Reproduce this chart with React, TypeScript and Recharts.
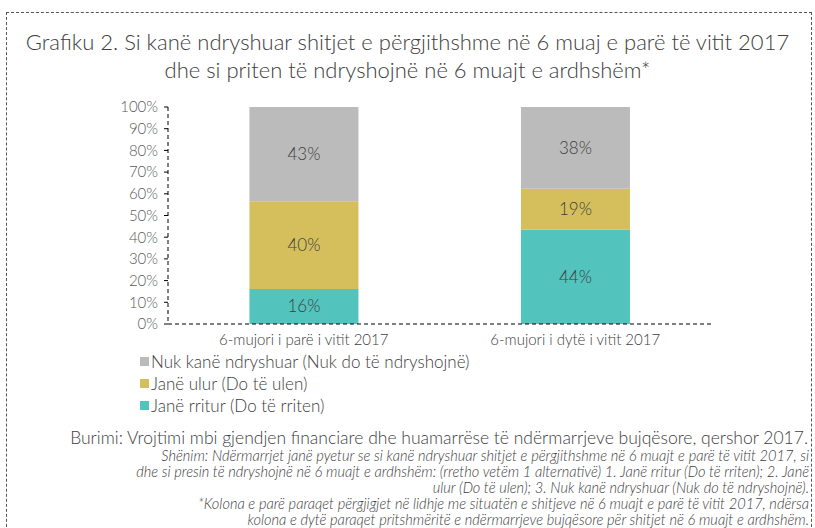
import React from 'react';
import { BarChart, Bar, XAxis, YAxis, LabelList } from 'recharts';

const categories = ['6-mujori i parë i vitit 2017', '6-mujori i dytë i vitit 2017'];
const rritur = [16, 44];
const ulur = [40, 19];
const pandryshuar = [43, 38];
const seriesNames = ['Janë rritur (Do të rriten)', 'Janë ulur (Do të ulen)', 'Nuk kanë ndryshuar (Nuk do të ndryshojnë)'];
const seriesColors = ['#52C3BD', '#D4BF5C', '#BBBBBB'];
const yTicks = [0, 0.1, 0.2, 0.3, 0.4, 0.5, 0.6, 0.7, 0.8, 0.9, 1];

const titleLines = [
  'Grafiku 2. Si kanë ndryshuar shitjet e përgjithshme në 6 muaj e parë të vitit 2017',
  'dhe si priten të ndryshojnë në 6 muajt e ardhshëm*',
];
const sourceLine = 'Burimi: Vrojtimi mbi gjendjen financiare dhe huamarrëse të ndërmarrjeve bujqësore, qershor 2017.';
const noteLines = [
  'Shënim: Ndërmarrjet janë pyetur se si kanë ndryshuar shitjet e përgjithshme në 6 muajt e parë të vitit 2017, si',
  'dhe si presin të ndryshojnë në 6 muajt e ardhshëm: (rretho vetëm 1 alternativë) 1. Janë rritur (Do të rriten); 2. Janë',
  'ulur (Do të ulen); 3. Nuk kanë ndryshuar (Nuk do të ndryshojnë).',
  '*Kolona e parë paraqet përgjigjet në lidhje me situatën e shitjeve në 6 muajt e parë të vitit 2017, ndërsa',
  'kolona e dytë paraqet pritshmëritë e ndërmarrjeve bujqësore për shitjet në 6 muajt e ardhshëm.',
];

const data = categories.map((c, i) => ({
  name: c,
  rritur: rritur[i],
  ulur: ulur[i],
  pandryshuar: pandryshuar[i],
}));

const FONT = 'Lato, "Open Sans", sans-serif';

export default function App() {
  const order = [2, 1, 0];
  return (
    <div style={{ position: 'absolute', left: 0, top: 0, width: 815, height: 528, background: '#fff', overflow: 'hidden', fontFamily: FONT }}>
      <div style={{ position: 'absolute', left: 6, top: 12, width: 806, height: 540, border: '1px dashed #555', boxSizing: 'border-box' }} />
      <div style={{ position: 'absolute', left: 0, top: 28, width: 815, textAlign: 'center', fontSize: 22, fontWeight: 300, color: '#404040', lineHeight: '28px', whiteSpace: 'nowrap' }}>
        {titleLines.map((t, i) => (<div key={i}>{t}</div>))}
      </div>
      <div style={{ position: 'absolute', left: 0, top: 0 }}>
        <BarChart width={815} height={528} data={data} stackOffset="expand" barCategoryGap="30%"
          margin={{ top: 107, left: 108, right: 104, bottom: 174 }}>
          <XAxis dataKey="name" axisLine={{ stroke: '#000', strokeDasharray: '4 3' }} tickLine={false}
            tick={{ fill: '#404040', fontSize: 15, fontFamily: FONT, fontWeight: 300 }} height={30} tickMargin={4} interval={0} />
          <YAxis width={60} ticks={yTicks} domain={[0, 1]} tickFormatter={(v) => `${Math.round(v * 100)}%`}
            axisLine={{ stroke: '#000', strokeDasharray: '4 3' }} tickLine={{ stroke: '#000' }} tickSize={4} tickMargin={6}
            tick={{ fill: '#595959', fontSize: 15, fontFamily: FONT, fontWeight: 300 }} interval={0} />
          <Bar dataKey="rritur" stackId="a" fill={seriesColors[0]} isAnimationActive={false}>
            <LabelList dataKey="rritur" position="center" formatter={(v: any) => `${v}%`} fill="#404040" fontSize={17} fontFamily={FONT} fontWeight={300} />
          </Bar>
          <Bar dataKey="ulur" stackId="a" fill={seriesColors[1]} isAnimationActive={false}>
            <LabelList dataKey="ulur" position="center" formatter={(v: any) => `${v}%`} fill="#404040" fontSize={17} fontFamily={FONT} fontWeight={300} />
          </Bar>
          <Bar dataKey="pandryshuar" stackId="a" fill={seriesColors[2]} isAnimationActive={false}>
            <LabelList dataKey="pandryshuar" position="center" formatter={(v: any) => `${v}%`} fill="#404040" fontSize={17} fontFamily={FONT} fontWeight={300} />
          </Bar>
        </BarChart>
      </div>
      <div style={{ position: 'absolute', left: 140, top: 350, fontSize: 17, fontWeight: 300, color: '#404040' }}>
        {order.map((i) => (
          <div key={i} style={{ display: 'flex', alignItems: 'center', height: 22, whiteSpace: 'nowrap' }}>
            <span style={{ display: 'inline-block', width: 9, height: 9, background: seriesColors[i], marginRight: 2 }} />
            <span>{seriesNames[i]}</span>
          </div>
        ))}
      </div>
      <div style={{ position: 'absolute', right: 7, top: 429, textAlign: 'right', fontSize: 17.5, fontWeight: 300, color: '#404040', lineHeight: '18px', whiteSpace: 'nowrap' }}>
        {sourceLine}
      </div>
      <div style={{ position: 'absolute', right: 6, top: 448, textAlign: 'right', fontSize: 14.6, fontStyle: 'italic', fontWeight: 300, color: '#404040', lineHeight: '16px', whiteSpace: 'nowrap' }}>
        {noteLines.map((t, i) => (<div key={i}>{t}</div>))}
      </div>
    </div>
  );
}
